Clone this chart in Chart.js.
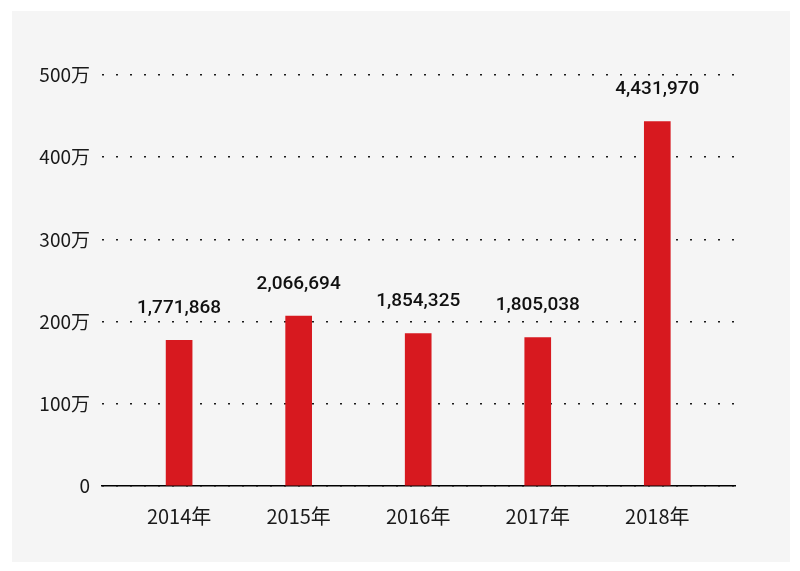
<!DOCTYPE html>
<html>
<head>
<meta charset="utf-8">
<script src="https://cdn.jsdelivr.net/npm/chart.js@4/dist/chart.umd.min.js"></script>
<style>
  html, body { margin: 0; padding: 0; background: #fff; }
  #panel { position: absolute; left: 12px; top: 11px; width: 778px; height: 551px; background: #f5f5f5; }
</style>
</head>
<body>
<div id="panel"><canvas id="visitorChart" width="778" height="551"></canvas></div>
<script>
// Yearly totals
const years = [2014, 2015, 2016, 2017, 2018];
const visitors = [1771868, 2066694, 1854325, 1805038, 4431970];
const yTicks = [0, 1000000, 2000000, 3000000, 4000000, 5000000];

const JP_FONT = '"Noto Sans CJK JP", "Noto Sans", sans-serif';

function yLabel(v) {
  return v === 0 ? '0' : (v / 10000) + '万';
}

// numbers over the bars
const valueLabels = {
  id: 'valueLabels',
  afterDatasetsDraw(chart) {
    const ctx = chart.ctx;
    const meta = chart.getDatasetMeta(0);
    ctx.save();
    ctx.font = '500 19px Roboto, "Liberation Sans", sans-serif';
    ctx.fillStyle = '#111';
    ctx.textAlign = 'center';
    ctx.textBaseline = 'middle';
    meta.data.forEach(function(bar, i) {
      ctx.fillText(visitors[i].toLocaleString('en-US'), bar.x, bar.y - 32);
    });
    ctx.restore();
  }
};

new Chart(document.getElementById('visitorChart'), {
  type: 'bar',
  data: {
    datasets: [{
      data: years.map((y, i) => ({ x: y, y: visitors[i] })),
      backgroundColor: '#d7191f',
      borderWidth: 0,
      barThickness: 26
    }]
  },
  plugins: [valueLabels],
  options: {
    responsive: false,
    animation: false,
    layout: { padding: { top: 64, right: 55, left: 0, bottom: 0 } },
    plugins: { legend: { display: false }, tooltip: { enabled: false } },
    scales: {
      x: {
        type: 'linear',
        offset: false,
        min: 2013.355,
        max: 2018.65,
        afterBuildTicks(scale) {
          scale.ticks = years.map(v => ({ value: v }));
        },
        afterFit(scale) { scale.height = 76; },
        grid: { display: false, drawTicks: false, offset: false },
        border: { display: true, color: '#000', width: 1.5 },
        ticks: {
          padding: 18,
          color: '#1a1a1a',
          font: { family: JP_FONT, size: 20 },
          callback: v => v + '年'
        }
      },
      y: {
        min: 0,
        max: 5000000,
        afterBuildTicks(scale) {
          scale.ticks = yTicks.map(v => ({ value: v }));
        },
        afterFit(scale) { scale.width = 90; },
        border: { display: false, dash: [2, 12] },
        grid: {
          color: '#1a1a1a',
          lineWidth: 1.6,
          drawTicks: false
        },
        ticks: {
          padding: 12,
          color: '#1a1a1a',
          font: { family: JP_FONT, size: 19 },
          callback: v => yLabel(v)
        }
      }
    }
  }
});
</script>
</body>
</html>
